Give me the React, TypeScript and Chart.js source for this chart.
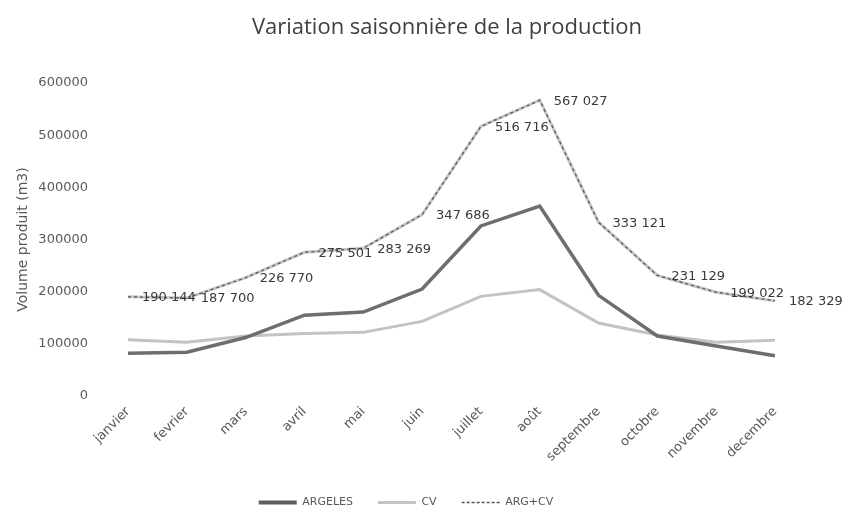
import React, { useEffect, useRef } from 'react';
import { Chart, registerables } from 'chart.js';

Chart.register(...registerables);

const TITLE = 'Variation saisonnière de la production';
const Y_TITLE = 'Volume produit (m3)';
const MONTHS = ['janvier', 'fevrier', 'mars', 'avril', 'mai', 'juin', 'juillet', 'août', 'septembre', 'octobre', 'novembre', 'decembre'];
const ARGELES = [82000, 84000, 112000, 155000, 161000, 205000, 326000, 364000, 193000, 115000, 96000, 77000];
const CV = [108000, 103000, 115000, 120000, 122000, 143000, 191000, 204000, 140000, 117000, 103000, 107000];
const ARG_CV = [190144, 187700, 226770, 275501, 283269, 347686, 516716, 567027, 333121, 231129, 199022, 182329];
const SERIES_NAMES = ['ARGELES', 'CV', 'ARG+CV'];

const fmt = (v: number) => String(v).replace(/\B(?=(\d{3})+(?!\d))/g, ' ');

export default function App() {
  const ref = useRef<HTMLCanvasElement | null>(null);

  useEffect(() => {
    const titlePlugin = {
      id: 'customTitle',
      afterDraw(chart: any) {
        const ctx = chart.ctx;
        ctx.save();
        ctx.font = '22px "Open Sans"';
        ctx.fillStyle = '#404040';
        ctx.textAlign = 'center';
        ctx.textBaseline = 'alphabetic';
        ctx.fillText(TITLE, 447, 34);
        ctx.restore();
      },
    };
    const labelPlugin = {
      id: 'totalLabels',
      afterDatasetsDraw(chart: any) {
        const meta = chart.getDatasetMeta(2);
        const ds = chart.data.datasets[2];
        const ctx = chart.ctx;
        ctx.save();
        ctx.font = '13px "DejaVu Sans"';
        ctx.fillStyle = '#3a3a3a';
        ctx.textAlign = 'left';
        ctx.textBaseline = 'middle';
        meta.data.forEach((pt: any, i: number) => {
          ctx.fillText(fmt(ds.data[i] as number), pt.x + 14, pt.y + 1);
        });
        ctx.restore();
      },
    };

    const chart = new Chart(ref.current as HTMLCanvasElement, {
      type: 'line',
      data: {
        labels: MONTHS,
        datasets: [
          {
            label: SERIES_NAMES[0],
            data: ARGELES,
            borderColor: '#6e6e6e',
            borderWidth: 3.5,
            pointRadius: 0,
            pointHoverRadius: 0,
            tension: 0,
            order: 2,
          },
          {
            label: SERIES_NAMES[1],
            data: CV,
            borderColor: '#c3c3c3',
            borderWidth: 3,
            pointRadius: 0,
            pointHoverRadius: 0,
            tension: 0,
            order: 3,
          },
          {
            label: SERIES_NAMES[2],
            data: ARG_CV,
            borderColor: '#5a5a5a',
            borderWidth: 1.3,
            borderDash: [3, 3],
            pointRadius: 0,
            pointHoverRadius: 0,
            tension: 0,
            order: 0,
          },
          {
            label: '_under',
            data: ARG_CV,
            borderColor: '#c6c6c6',
            borderWidth: 3,
            pointRadius: 0,
            pointHoverRadius: 0,
            tension: 0,
            order: 1,
          },
        ],
      },
      options: {
        animation: false,
        responsive: false,
        events: [],
        layout: { padding: { left: 0, right: 33, top: 83, bottom: -7 } },
        scales: {
          x: {
            type: 'category',
            offset: false,
            grid: { display: false, drawTicks: false },
            border: { display: false },
            ticks: {
              autoSkip: false,
              maxRotation: 45,
              minRotation: 45,
              padding: 8,
              color: '#595959',
              font: { family: 'DejaVu Sans', size: 13 },
            },
            afterFit: (s: any) => {
              s.height = 76;
            },
          },
          y: {
            type: 'linear',
            position: 'left',
            min: 0,
            max: 600000,
            grid: { display: false, drawTicks: false },
            border: { display: false },
            ticks: {
              stepSize: 100000,
              padding: 40,
              color: '#595959',
              font: { family: 'DejaVu Sans', size: 13 },
              callback: (v: any) => String(v),
            },
            title: {
              display: true,
              text: Y_TITLE,
              color: '#595959',
              font: { family: 'DejaVu Sans', size: 14 },
              padding: { top: 15, bottom: 0 },
            },
            afterFit: (s: any) => {
              s.width = 128;
            },
          },
          y2: {
            type: 'linear',
            position: 'right',
            grid: { display: false, drawTicks: false },
            border: { display: false },
            ticks: { display: false },
            afterFit: (s: any) => {
              s.width = 37;
            },
          },
        },
        plugins: {
          title: { display: false },
          tooltip: { enabled: false },
          legend: {
            display: true,
            position: 'bottom',
            labels: {
              usePointStyle: true,
              pointStyleWidth: 38,
              padding: 25,
              color: '#595959',
              font: { family: 'DejaVu Sans', size: 11 },
              generateLabels: (c: any) => {
                const widths = [4, 3, 1.5];
                const colors = ['#5e5e5e', '#c3c3c3', '#555555'];
                return c.data.datasets.slice(0, 3).map((ds: any, i: number) => ({
                  text: ds.label,
                  fillStyle: colors[i],
                  strokeStyle: colors[i],
                  lineWidth: widths[i],
                  lineDash: i === 2 ? [3, 2] : [],
                  pointStyle: 'line',
                  hidden: false,
                  datasetIndex: i,
                  fontColor: '#595959',
                }));
              },
            },
          },
        },
      },
      plugins: [titlePlugin, labelPlugin],
    });
    return () => chart.destroy();
  }, []);

  return (
    <div style={{ position: 'absolute', left: 0, top: 0, width: 845, height: 511, background: '#fff' }}>
      <canvas ref={ref} width={845} height={511} style={{ display: 'block' }} />
    </div>
  );
}
